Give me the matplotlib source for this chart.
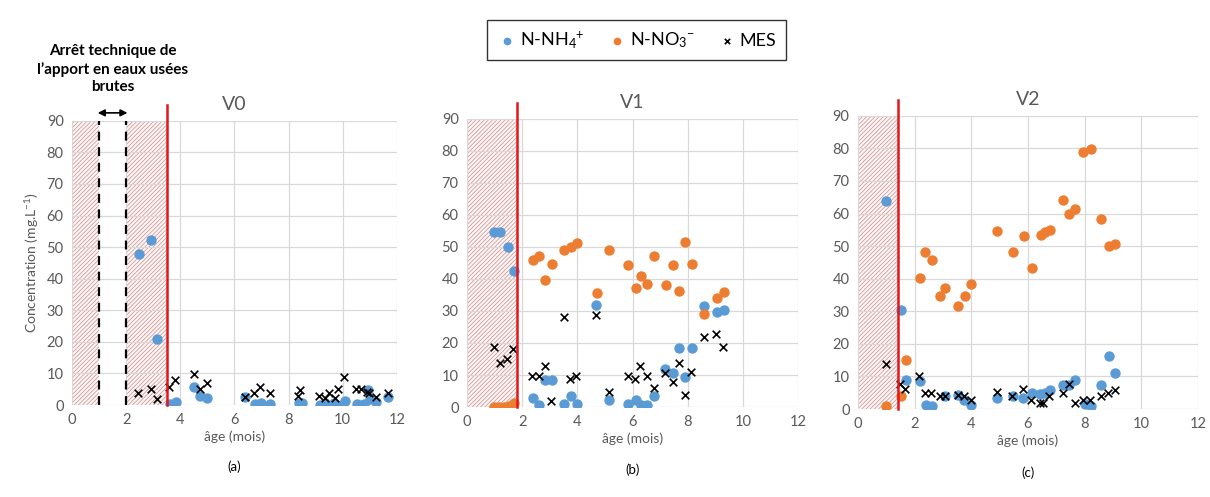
import numpy as np
import matplotlib
matplotlib.use("Agg")
import matplotlib.pyplot as plt

plt.rcParams['font.family'] = ['Lato', 'DejaVu Sans']
plt.rcParams['mathtext.fontset'] = 'custom'
plt.rcParams['mathtext.rm'] = 'Lato'
plt.rcParams['mathtext.it'] = 'Lato:italic'
plt.rcParams['mathtext.bf'] = 'Lato:bold'
plt.rcParams['hatch.linewidth'] = 0.5
plt.rcParams['hatch.color'] = '#cf8a88'

# ---- V0 ----
v0_nh4_x = [2.46, 2.93, 3.14, 3.63, 3.84, 4.49, 4.74, 4.98, 6.4, 6.77, 6.98, 7.3, 8.37, 8.49,
            9.17, 9.35, 9.66, 9.78, 10.09, 10.52, 10.77, 10.95, 11.0, 11.24, 11.69]
v0_nh4_y = [47.9, 52.1, 21.0, 0.2, 1.1, 5.8, 3.0, 2.1, 2.7, 0.2, 0.5, 0.3, 0.5, 0.5,
            0.0, 0.5, 0.5, 0.0, 1.4, 0.3, 0.3, 4.8, 1.8, 1.1, 2.7]
v0_mes_x = [2.42, 2.92, 3.14, 3.6, 3.82, 4.49, 4.74, 4.98, 6.4, 6.71, 6.95, 7.3, 8.34, 8.43,
            9.14, 9.35, 9.48, 9.7, 9.81, 10.06, 10.5, 10.67, 10.89, 10.98, 11.24, 11.66]
v0_mes_y = [3.7, 5.0, 1.8, 5.6, 8.0, 9.9, 5.0, 6.9, 2.7, 3.9, 5.8, 3.9, 3.0, 4.8,
            3.0, 2.1, 3.9, 2.1, 5.0, 8.8, 5.0, 5.0, 4.2, 3.7, 2.7, 3.9]

# ---- V1 ----
v1_nh4_x = [0.99, 1.21, 1.47, 1.69, 2.38, 2.6, 2.84, 3.08, 3.53, 3.77, 3.99, 4.69, 5.14, 5.82,
            6.13, 6.31, 6.53, 6.77, 7.19, 7.47, 7.67, 7.92, 8.16, 8.6, 9.06, 9.31]
v1_nh4_y = [54.7, 54.7, 50.0, 42.4, 2.8, 0.5, 8.4, 8.4, 1.0, 3.5, 1.0, 31.9, 2.1, 1.0,
            2.1, 0.5, 0.5, 3.5, 12.0, 10.7, 18.3, 9.4, 18.3, 31.4, 29.8, 30.2]
v1_no3_x = [0.97, 1.15, 1.33, 1.51, 1.69, 2.38, 2.6, 2.84, 3.08, 3.53, 3.77, 3.99, 4.71, 5.14,
            5.82, 6.13, 6.31, 6.53, 6.77, 7.23, 7.47, 7.67, 7.92, 8.16, 8.6, 9.06, 9.31]
v1_no3_y = [0.0, 0.0, 0.0, 0.3, 1.3, 46.0, 47.1, 39.6, 44.8, 49.0, 50.0, 51.2, 35.6, 49.0,
            44.3, 37.2, 41.0, 38.4, 47.1, 38.2, 44.5, 36.3, 51.6, 44.8, 29.0, 34.2, 35.9]
v1_mes_x = [0.97, 1.18, 1.45, 1.67, 2.36, 2.6, 2.82, 3.06, 3.5, 3.75, 3.96, 4.68, 5.14, 5.82,
            6.1, 6.28, 6.53, 6.77, 7.19, 7.46, 7.67, 7.92, 8.13, 8.58, 9.04, 9.28]
v1_mes_y = [18.8, 13.9, 14.9, 18.0, 9.7, 9.7, 12.8, 1.9, 28.0, 8.9, 9.7, 28.8, 4.7, 9.7,
            8.9, 12.8, 9.7, 5.8, 10.7, 7.9, 13.9, 3.9, 11.0, 21.8, 22.8, 18.8]

# ---- V2 ----
v2_nh4_x = [0.98, 1.51, 1.71, 2.18, 2.39, 2.61, 3.06, 3.53, 3.76, 4.0, 4.92, 5.47, 5.82, 6.14,
            6.44, 6.59, 6.79, 7.24, 7.45, 7.68, 8.0, 8.24, 8.59, 8.85, 9.09]
v2_nh4_y = [64.0, 30.5, 9.0, 8.5, 1.3, 0.8, 3.9, 4.2, 2.9, 1.3, 3.4, 3.9, 3.4, 4.9,
            4.6, 4.9, 5.9, 7.5, 7.5, 9.0, 1.5, 0.8, 7.3, 16.4, 11.0]
v2_no3_x = [0.98, 1.51, 1.71, 2.18, 2.38, 2.61, 2.91, 3.08, 3.55, 3.79, 4.0, 4.92, 5.47, 5.85,
            6.14, 6.47, 6.62, 6.79, 7.24, 7.45, 7.67, 7.96, 8.24, 8.59, 8.85, 9.09]
v2_no3_y = [0.8, 3.9, 15.1, 40.2, 48.2, 45.6, 34.6, 37.3, 31.7, 34.6, 38.3, 54.6, 48.2, 53.1,
            43.3, 53.4, 54.4, 55.1, 64.1, 60.0, 61.4, 78.9, 79.8, 58.2, 50.0, 50.5]
v2_mes_x = [0.98, 1.47, 1.68, 2.15, 2.38, 2.59, 2.91, 3.08, 3.55, 3.76, 4.0, 4.92, 5.44, 5.82,
            6.12, 6.44, 6.55, 6.76, 7.24, 7.45, 7.65, 7.94, 8.18, 8.59, 8.82, 9.06]
v2_mes_y = [13.9, 7.8, 6.1, 10.0, 4.9, 4.9, 3.9, 3.9, 4.2, 3.9, 2.9, 5.1, 3.9, 6.1,
            2.9, 1.8, 1.8, 3.9, 4.9, 7.8, 1.8, 2.9, 2.9, 3.9, 4.9, 5.9]

titles = ['V0', 'V1', 'V2']
letters = ['(a)', '(b)', '(c)']
cutoffs = [3.5, 1.82, 1.41]

blue = '#5b9bd5'
orange = '#ed7d31'
gray = '#595959'

panels = [
    (v0_nh4_x, v0_nh4_y, None, None, v0_mes_x, v0_mes_y),
    (v1_nh4_x, v1_nh4_y, v1_no3_x, v1_no3_y, v1_mes_x, v1_mes_y),
    (v2_nh4_x, v2_nh4_y, v2_no3_x, v2_no3_y, v2_mes_x, v2_mes_y),
]
positions = [
    [0.0595, 0.185, 0.2685, 0.572],
    [0.386, 0.181, 0.2735, 0.580],
    [0.709, 0.177, 0.281, 0.590],
]

fig = plt.figure(figsize=(12.1, 4.97), dpi=100)

for i in range(3):
    ax = fig.add_axes(positions[i])
    nx, ny, ox, oy, mx, my = panels[i]

    ax.axvspan(0, cutoffs[i], facecolor='#fdf6f6', edgecolor='#cf8a88', hatch='////////', lw=0.6, zorder=0)
    if i == 0:
        ax.axvspan(1, 2, facecolor='white', edgecolor='none', zorder=0.5)
        for xd in [1, 2]:
            ax.plot([xd, xd], [0, 90], color='black', ls=(0, (4, 3)), lw=1.6, zorder=1)
        ax.annotate('', xy=(0.95, 92.5), xytext=(2.05, 92.5), xycoords='data',
                    arrowprops=dict(arrowstyle='<|-|>', color='black', lw=1.2,
                                    mutation_scale=10, shrinkA=0, shrinkB=0),
                    annotation_clip=False)
        ax.text(1.5, 98.5, "Arrêt technique de\nl’apport en eaux usées\nbrutes", ha='center', va='bottom',
                fontsize=11, fontweight='bold', linespacing=1.3)
        ax.set_ylabel('Concentration (mg.L$^{-1}$)', color=gray, fontsize=10)

    ax.scatter(nx, ny, s=42, color=blue, zorder=3, label='N-NH$_4$$^{+}$')
    if ox is not None:
        ax.scatter(ox, oy, s=42, color=orange, zorder=3, label='N-NO$_3$$^{-}$')
    ax.scatter(mx, my, s=30, marker='x', color='black', lw=1.2, zorder=4, label='MES')

    ax.plot([cutoffs[i], cutoffs[i]], [0, 95], color='#e3161b', lw=1.8, clip_on=False, zorder=5)

    ax.set_xlim(0, 12)
    ax.set_ylim(0, 90)
    ax.set_xticks(range(0, 13, 2))
    ax.set_yticks(range(0, 91, 10))
    ax.grid(color='#d9d9d9', lw=0.9)
    ax.set_axisbelow(True)
    for s in ax.spines.values():
        s.set_visible(False)
    ax.tick_params(length=0, labelsize=10.5, labelcolor=gray, pad=6)
    ax.set_title(titles[i], color=gray, fontsize=14, pad=8)
    ax.set_xlabel('âge (mois)', color=gray, fontsize=10, labelpad=2)
    ax.text(0.5, -0.195, letters[i], transform=ax.transAxes, ha='center', va='top', fontsize=9.5)

    if i == 1:
        handles, labels = ax.get_legend_handles_labels()

fig.legend(handles, labels, loc='upper center', bbox_to_anchor=(0.526, 0.977), ncol=3,
           fontsize=13, frameon=True, fancybox=False, edgecolor='black', handletextpad=0.1,
           columnspacing=1.2, handlelength=1.2, markerscale=0.7, borderpad=0.5)

fig.savefig('out.png', dpi=100)
